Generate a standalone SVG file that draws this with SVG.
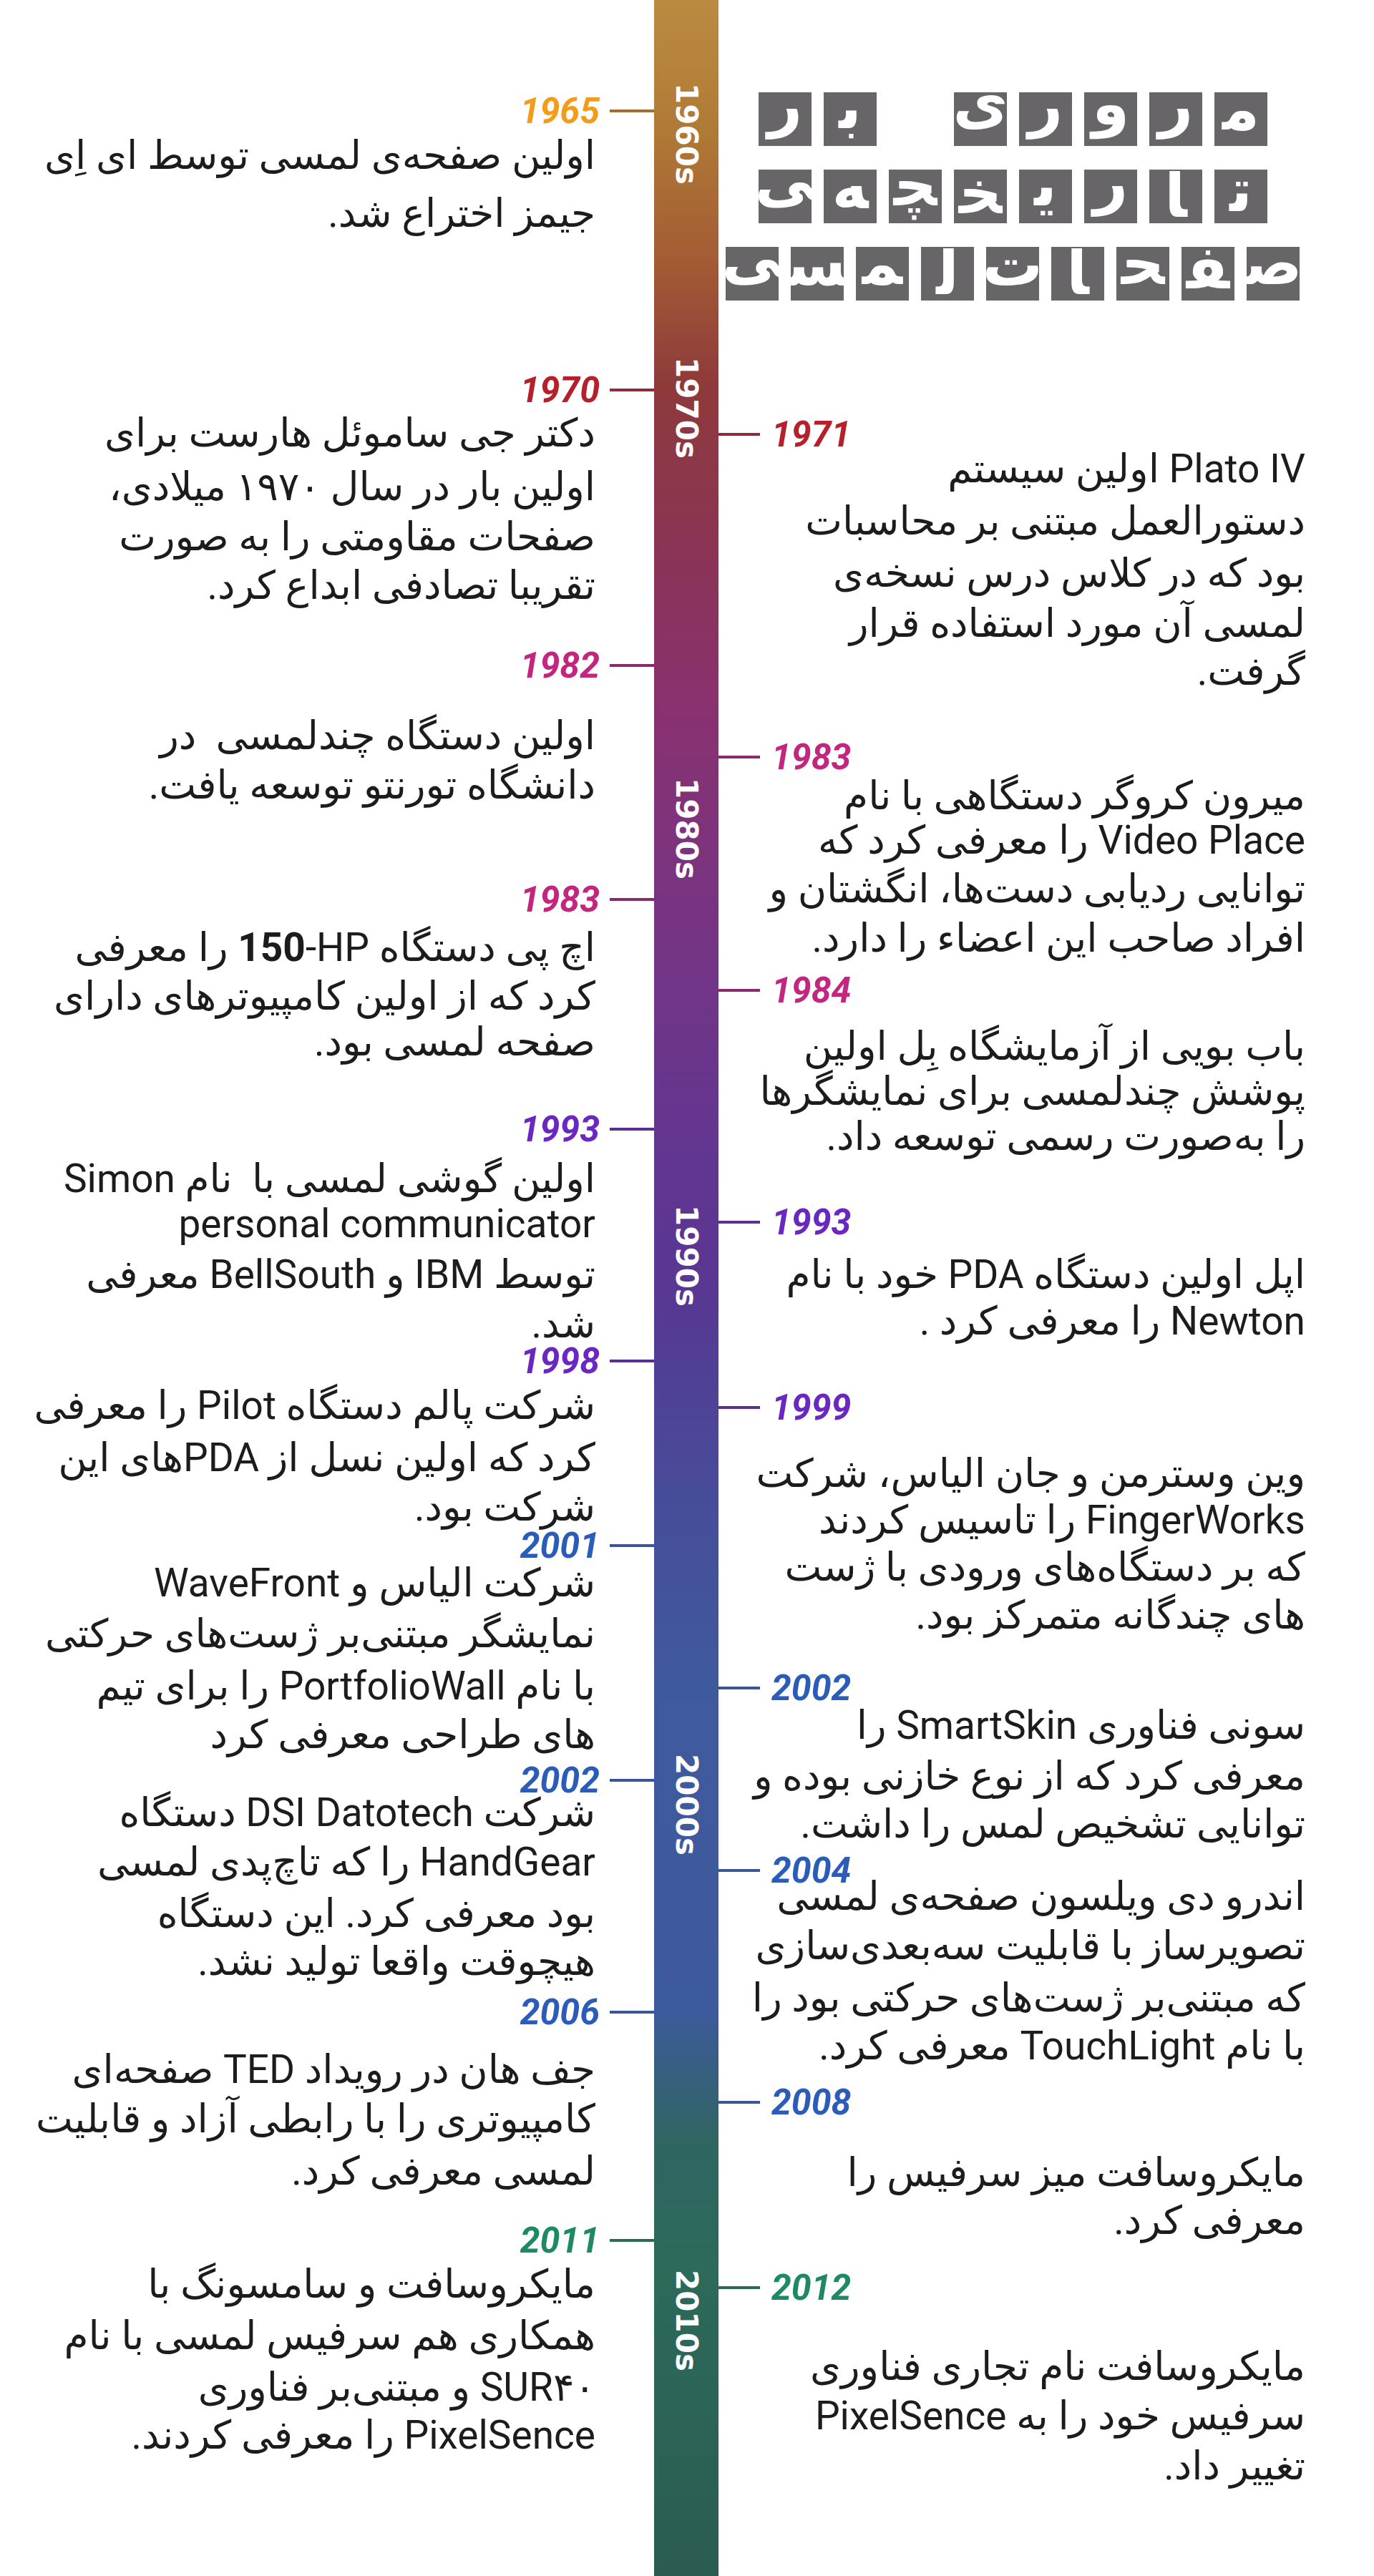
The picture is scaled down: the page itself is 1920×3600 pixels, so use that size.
<svg xmlns="http://www.w3.org/2000/svg" width="1920" height="3600" viewBox="0 0 1920 3600">
<defs>
<linearGradient id="barGrad" x1="0" y1="0" x2="0" y2="1">
<stop offset="0" stop-color="#bb8b42"/>
<stop offset="0.05" stop-color="#b07a36"/>
<stop offset="0.10" stop-color="#a35c34"/>
<stop offset="0.15" stop-color="#8e3a3b"/>
<stop offset="0.22" stop-color="#8a3358"/>
<stop offset="0.28" stop-color="#883171"/>
<stop offset="0.36" stop-color="#763483"/>
<stop offset="0.44" stop-color="#643690"/>
<stop offset="0.50" stop-color="#583793"/>
<stop offset="0.58" stop-color="#474c99"/>
<stop offset="0.65" stop-color="#3f599d"/>
<stop offset="0.78" stop-color="#3d5a9c"/>
<stop offset="0.83" stop-color="#306562"/>
<stop offset="0.88" stop-color="#2c6a5a"/>
<stop offset="1" stop-color="#2b5c52"/>
</linearGradient>
<style>
.body{font-family:Roboto,"DejaVu Sans",sans-serif;font-size:55px;fill:#1c1c1c;direction:rtl;text-anchor:start;white-space:pre}
.yr{font-family:Roboto,"Liberation Sans",sans-serif;font-weight:700;font-style:italic;font-size:50px;dominant-baseline:central}
.yl{text-anchor:end}
.yrr{text-anchor:start}
.dec{font-family:"DejaVu Sans",sans-serif;font-weight:700;font-size:42px;fill:#ffffff;text-anchor:middle;dominant-baseline:central}
.tile{fill:#676568}
.tl{font-family:"DejaVu Sans",sans-serif;font-weight:700;font-size:84px;fill:#ffffff;text-anchor:middle;direction:rtl}
.tick{stroke-width:4;fill:none}
.c60{fill:#f39c1a}.s60{stroke:#a86c2c}
.c70{fill:#b5202a}.s70{stroke:#8e2c3c}
.c80{fill:#c2267e}.s80{stroke:#8a2a6a}
.c90{fill:#6a28c0}.s90{stroke:#5a2e92}
.c00{fill:#2a5cb8}.s00{stroke:#3a5698}
.c10{fill:#1f8a62}.s10{stroke:#2a6a56}
</style>
</defs>
<rect width="1920" height="3600" fill="#ffffff"/>

<g id="timeline-bar">
<rect x="914" y="0" width="90" height="3600" fill="url(#barGrad)"/>
<text class="dec" transform="translate(959,187) rotate(90)">1960s</text>
<text class="dec" transform="translate(959,570) rotate(90)">1970s</text>
<text class="dec" transform="translate(959,1158) rotate(90)">1980s</text>
<text class="dec" transform="translate(959,1755) rotate(90)">1990s</text>
<text class="dec" transform="translate(959,2522) rotate(90)">2000s</text>
<text class="dec" transform="translate(959,3243) rotate(90)">2010s</text>
</g>

<g id="title">
<rect class="tile" x="1060" y="129" width="74" height="75"/><text class="tl" x="1097" y="174">ر</text>
<rect class="tile" x="1151" y="129" width="74" height="75"/><text class="tl" x="1188" y="179">ب&#x200D;</text>
<rect class="tile" x="1333" y="129" width="74" height="75"/><text class="tl" x="1370" y="172">ی</text>
<rect class="tile" x="1424" y="129" width="74" height="75"/><text class="tl" x="1461" y="174">ر</text>
<rect class="tile" x="1515" y="129" width="74" height="75"/><text class="tl" x="1552" y="174">و</text>
<rect class="tile" x="1606" y="129" width="74" height="75"/><text class="tl" x="1643" y="174">ر</text>
<rect class="tile" x="1697" y="129" width="74" height="75"/><text class="tl" x="1734" y="181">م&#x200D;</text>

<rect class="tile" x="1060" y="237" width="74" height="75"/><text class="tl" x="1097" y="280">&#x200D;ی</text>
<rect class="tile" x="1151" y="237" width="74" height="75"/><text class="tl" x="1188" y="291">&#x200D;ه</text>
<rect class="tile" x="1242" y="237" width="74" height="75"/><text class="tl" x="1279" y="287">&#x200D;چ&#x200D;</text>
<rect class="tile" x="1333" y="237" width="74" height="75"/><text class="tl" x="1370" y="298">&#x200D;خ&#x200D;</text>
<rect class="tile" x="1424" y="237" width="74" height="75"/><text class="tl" x="1461" y="287">ی&#x200D;</text>
<rect class="tile" x="1515" y="237" width="74" height="75"/><text class="tl" x="1552" y="282">ر</text>
<rect class="tile" x="1606" y="237" width="74" height="75"/><text class="tl" x="1643" y="303">&#x200D;ا</text>
<rect class="tile" x="1697" y="237" width="74" height="75"/><text class="tl" x="1734" y="295">ت&#x200D;</text>

<rect class="tile" x="1014" y="345" width="74" height="75"/><text class="tl" x="1051" y="388">&#x200D;ی</text>
<rect class="tile" x="1105" y="345" width="74" height="75"/><text class="tl" x="1142" y="399">&#x200D;س&#x200D;</text>
<rect class="tile" x="1196" y="345" width="74" height="75"/><text class="tl" x="1233" y="397">&#x200D;م&#x200D;</text>
<rect class="tile" x="1287" y="345" width="74" height="75"/><text class="tl" x="1324" y="411">ل&#x200D;</text>
<rect class="tile" x="1378" y="345" width="74" height="75"/><text class="tl" x="1415" y="399">ت</text>
<rect class="tile" x="1469" y="345" width="74" height="75"/><text class="tl" x="1506" y="411">&#x200D;ا</text>
<rect class="tile" x="1560" y="345" width="74" height="75"/><text class="tl" x="1597" y="397">&#x200D;ح&#x200D;</text>
<rect class="tile" x="1651" y="345" width="74" height="75"/><text class="tl" x="1688" y="403">&#x200D;ف&#x200D;</text>
<rect class="tile" x="1742" y="345" width="74" height="75"/><text class="tl" x="1779" y="397">ص&#x200D;</text>
</g>

<g id="connectors">
<line class="tick s60" x1="852" y1="155" x2="914" y2="155"/>
<line class="tick s70" x1="852" y1="545" x2="914" y2="545"/>
<line class="tick s70" x1="1004" y1="607" x2="1062" y2="607"/>
<line class="tick s80" x1="852" y1="930" x2="914" y2="930"/>
<line class="tick s80" x1="1004" y1="1058" x2="1062" y2="1058"/>
<line class="tick s80" x1="852" y1="1257" x2="914" y2="1257"/>
<line class="tick s80" x1="1004" y1="1384" x2="1062" y2="1384"/>
<line class="tick s90" x1="852" y1="1578" x2="914" y2="1578"/>
<line class="tick s90" x1="1004" y1="1708" x2="1062" y2="1708"/>
<line class="tick s90" x1="852" y1="1902" x2="914" y2="1902"/>
<line class="tick s90" x1="1004" y1="1967" x2="1062" y2="1967"/>
<line class="tick s00" x1="852" y1="2160" x2="914" y2="2160"/>
<line class="tick s00" x1="1004" y1="2359" x2="1062" y2="2359"/>
<line class="tick s00" x1="852" y1="2488" x2="914" y2="2488"/>
<line class="tick s00" x1="1004" y1="2614" x2="1062" y2="2614"/>
<line class="tick s00" x1="852" y1="2812" x2="914" y2="2812"/>
<line class="tick s00" x1="1004" y1="2938" x2="1062" y2="2938"/>
<line class="tick s10" x1="852" y1="3131" x2="914" y2="3131"/>
<line class="tick s10" x1="1004" y1="3197" x2="1062" y2="3197"/>
</g>

<g id="e1965">
<text class="yr yl c60" x="838" y="155">1965</text>
<text class="body" x="832" y="236">اولین صفحه&#x200C;ی لمسی توسط ای اِی</text>
<text class="body" x="832" y="317">جیمز اختراع شد.</text>
</g>

<g id="e1970">
<text class="yr yl c70" x="838" y="545">1970</text>
<text class="body" x="832" y="624">دکتر جی ساموئل هارست برای</text>
<text class="body" x="832" y="699">اولین بار در سال ۱۹۷۰ میلادی،</text>
<text class="body" x="832" y="769">صفحات مقاومتی را به صورت</text>
<text class="body" x="832" y="837">تقریبا تصادفی ابداع کرد.</text>
</g>

<g id="e1971">
<text class="yr yrr c70" x="1078" y="607">1971</text>
<text class="body" x="1824" y="674">Plato IV اولین سیستم</text>
<text class="body" x="1824" y="747">دستورالعمل مبتنی بر محاسبات</text>
<text class="body" x="1824" y="820">بود که در کلاس درس نسخه&#x200C;ی</text>
<text class="body" x="1824" y="890">لمسی آن مورد استفاده قرار</text>
<text class="body" x="1824" y="957">گرفت.</text>
</g>

<g id="e1982">
<text class="yr yl c80" x="838" y="930">1982</text>
<text class="body" x="832" y="1047">اولین دستگاه چندلمسی  در</text>
<text class="body" x="832" y="1116">دانشگاه تورنتو توسعه یافت.</text>
</g>

<g id="e1983a">
<text class="yr yrr c80" x="1078" y="1058">1983</text>
<text class="body" x="1824" y="1131">میرون کروگر دستگاهی با نام</text>
<text class="body" x="1824" y="1193">Video Place را معرفی کرد که</text>
<text class="body" x="1824" y="1261">توانایی ردیابی دست&#x200C;ها، انگشتان و</text>
<text class="body" x="1824" y="1330">افراد صاحب این اعضاء را دارد.</text>
</g>

<g id="e1983b">
<text class="yr yl c80" x="838" y="1257">1983</text>
<text class="body" x="832" y="1343">اچ پی دستگاه HP&#x200F;-<tspan font-weight="700">150</tspan> را معرفی</text>
<text class="body" x="832" y="1411">کرد که از اولین کامپیوترهای دارای</text>
<text class="body" x="832" y="1475">صفحه لمسی بود.</text>
</g>

<g id="e1984">
<text class="yr yrr c80" x="1078" y="1384">1984</text>
<text class="body" x="1824" y="1481">باب بویی از آزمایشگاه بِل اولین</text>
<text class="body" x="1824" y="1544">پوشش چندلمسی برای نمایشگرها</text>
<text class="body" x="1824" y="1607">را به&#x200C;صورت رسمی توسعه داد.</text>
</g>

<g id="e1993a">
<text class="yr yl c90" x="838" y="1578">1993</text>
<text class="body" x="832" y="1666">اولین گوشی لمسی با  نام Simon</text>
<text class="body" x="832" y="1729">personal communicator</text>
<text class="body" x="832" y="1800">توسط IBM و BellSouth معرفی</text>
<text class="body" x="832" y="1869">شد.</text>
</g>

<g id="e1993b">
<text class="yr yrr c90" x="1078" y="1708">1993</text>
<text class="body" x="1824" y="1800">اپل اولین دستگاه PDA خود با نام</text>
<text class="body" x="1824" y="1865">Newton را معرفی کرد .</text>
</g>

<g id="e1998">
<text class="yr yl c90" x="838" y="1902">1998</text>
<text class="body" x="832" y="1983">شرکت پالم دستگاه Pilot را معرفی</text>
<text class="body" x="832" y="2056">کرد که اولین نسل از PDAهای این</text>
<text class="body" x="832" y="2125">شرکت بود.</text>
</g>

<g id="e1999">
<text class="yr yrr c90" x="1078" y="1967">1999</text>
<text class="body" x="1824" y="2078">وین وسترمن و جان الیاس، شرکت</text>
<text class="body" x="1824" y="2143">FingerWorks را تاسیس کردند</text>
<text class="body" x="1824" y="2209">که بر دستگاه&#x200C;های ورودی با ژست</text>
<text class="body" x="1824" y="2276">های چندگانه متمرکز بود.</text>
</g>

<g id="e2001">
<text class="yr yl c00" x="838" y="2160">2001</text>
<text class="body" x="832" y="2231">شرکت الیاس و WaveFront</text>
<text class="body" x="832" y="2302">نمایشگر مبتنی&#x200C;بر ژست&#x200C;های حرکتی</text>
<text class="body" x="832" y="2375">با نام PortfolioWall را برای تیم</text>
<text class="body" x="832" y="2443">های طراحی معرفی کرد</text>
</g>

<g id="e2002a">
<text class="yr yrr c00" x="1078" y="2359">2002</text>
<text class="body" x="1824" y="2430">سونی فناوری SmartSkin را</text>
<text class="body" x="1824" y="2501">معرفی کرد که از نوع خازنی بوده و</text>
<text class="body" x="1824" y="2568">توانایی تشخیص لمس را داشت.</text>
</g>

<g id="e2002b">
<text class="yr yl c00" x="838" y="2488">2002</text>
<text class="body" x="832" y="2552">شرکت DSI Datotech دستگاه</text>
<text class="body" x="832" y="2621">HandGear را که تاچ&#x200C;پدی لمسی</text>
<text class="body" x="832" y="2693">بود معرفی کرد. این دستگاه</text>
<text class="body" x="832" y="2760">هیچوقت واقعا تولید نشد.</text>
</g>

<g id="e2004">
<text class="yr yrr c00" x="1078" y="2614">2004</text>
<text class="body" x="1824" y="2669">اندرو دی ویلسون صفحه&#x200C;ی لمسی</text>
<text class="body" x="1824" y="2738">تصویرساز با قابلیت سه&#x200C;بعدی&#x200C;سازی</text>
<text class="body" x="1824" y="2811">که مبتنی&#x200C;بر ژست&#x200C;های حرکتی بود را</text>
<text class="body" x="1824" y="2878">با نام TouchLight معرفی کرد.</text>
</g>

<g id="e2006">
<text class="yr yl c00" x="838" y="2812">2006</text>
<text class="body" x="832" y="2911">جف هان در رویداد TED صفحه&#x200C;ای</text>
<text class="body" x="832" y="2980">کامپیوتری را با رابطی آزاد و قابلیت</text>
<text class="body" x="832" y="3053">لمسی معرفی کرد.</text>
</g>

<g id="e2008">
<text class="yr yrr c00" x="1078" y="2938">2008</text>
<text class="body" x="1824" y="3055">مایکروسافت میز سرفیس را</text>
<text class="body" x="1824" y="3122">معرفی کرد.</text>
</g>

<g id="e2011">
<text class="yr yl c10" x="838" y="3131">2011</text>
<text class="body" x="832" y="3211">مایکروسافت و سامسونگ با</text>
<text class="body" x="832" y="3283">همکاری هم سرفیس لمسی با نام</text>
<text class="body" x="832" y="3355">SUR۴۰ و مبتنی&#x200C;بر فناوری</text>
<text class="body" x="832" y="3422">PixelSence را معرفی کردند.</text>
</g>

<g id="e2012">
<text class="yr yrr c10" x="1078" y="3197">2012</text>
<text class="body" x="1824" y="3326">مایکروسافت نام تجاری فناوری</text>
<text class="body" x="1824" y="3395">سرفیس خود را به PixelSence</text>
<text class="body" x="1824" y="3465">تغییر داد.</text>
</g>
</svg>
